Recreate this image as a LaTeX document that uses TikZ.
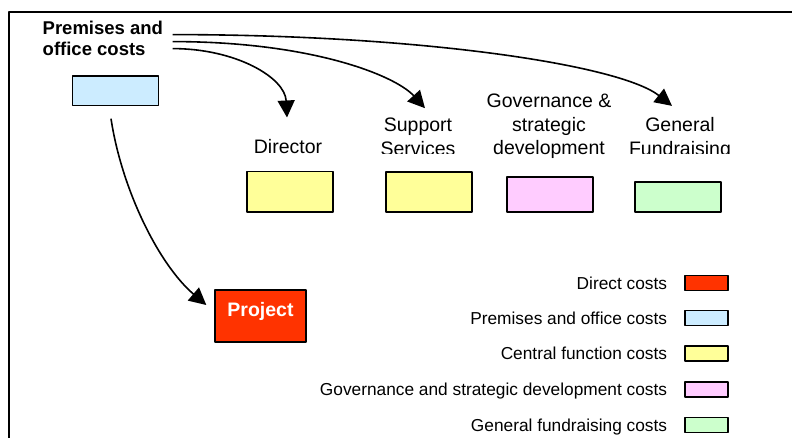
\documentclass[tikz,border=0pt]{standalone}
\usepackage{fontspec}
\setmainfont{Liberation Sans}
\usetikzlibrary{arrows.meta,positioning,calc}
\definecolor{premblue}{HTML}{CCECFF}
\definecolor{centyellow}{HTML}{FFFF99}
\definecolor{govpink}{HTML}{FFCCFF}
\definecolor{fundgreen}{HTML}{CCFFCC}
\definecolor{projred}{HTML}{FF3300}
\begin{document}
\begin{tikzpicture}[x=1pt,y=-1pt,>={Triangle[length=17pt,width=17pt]},line join=round,
	box/.style={draw,line width=1.4pt,inner sep=0,minimum width=86pt},
	key/.style={draw,line width=1.4pt,inner sep=0,minimum width=43pt,minimum height=15pt},
	lbl/.style={inner sep=0,align=center,anchor=south,text depth=0pt,font=\fontsize{19.5}{23.5}\selectfont},
	keytxt/.style={inner sep=0,text height=12.2pt,text depth=0pt,font=\fontsize{17.3}{20}\selectfont},
	link/.style={->,line width=1.6pt}]
	 \useasboundingbox (0,0) rectangle (792,438);
	 \draw[line width=1.4pt] (9,438)--(9,12)--(792,12);
	 % source
	 \node[inner sep=0,align=left,anchor=south west,text depth=0pt,font=\bfseries\fontsize{18.5}{21.5}\selectfont] (prem) at (42.5,56) {Premises and\\office costs};
	 \node[box,fill=premblue,minimum height=29.5pt] (prembox) at (115.5,90.75) {};
	 % central functions
	 \begin{scope}
	 \clip (0,0) rectangle (792,153.5);
	 \node[lbl] (dirlbl) at (288,153.5) {Director};
	 \node[lbl] (suplbl) at (418,155.5) {Support\\Services};
	 \node[lbl] (genlbl) at (680,155.5) {General\\Fundraising};
	 \end{scope}
	 \node[lbl] (govlbl) at (549,155) {Governance \&\\strategic\\development};
	 \node[box,fill=centyellow,minimum height=40.5pt] (dirbox) at (290,191.75) {};
	 \node[box,fill=centyellow,minimum height=40pt] (supbox) at (429,192) {};
	 \node[box,fill=govpink,minimum height=35pt] (govbox) at (550,194.5) {};
	 \node[box,fill=fundgreen,minimum height=30pt] (genbox) at (678,197) {};
	 \node[box,fill=projred,minimum width=91pt,minimum height=52pt,text=white,text height=14pt,text depth=14pt,font=\bfseries\fontsize{19.5}{23}\selectfont] (proj) at (260.5,316) {Project};
	 % arrows
	 \coordinate (sgen) at ($(prem.east)+(9.5,-3.75)$);
	 \coordinate (ssup) at ($(prem.east)+(9.5,3.25)$);
	 \coordinate (sdir) at ($(prem.east)+(9.5,10.25)$);
	 \coordinate (sproj) at ($(prembox.south)+(-4.5,12.5)$);
	 \coordinate (tdir) at ($(dirlbl.north)+(-1,-21.5)$);
	 \coordinate (tsup) at ($(suplbl.north)+(7,-9.8)$);
	 \coordinate (tgen) at ($(genlbl.north)+(-8,-11.6)$);
	 \coordinate (tproj) at ($(proj.west)+(-8,-11)$);
	 \draw[link] (sgen) .. controls +(248,0) and +(-52,-41) .. (tgen);
	 \draw[link] (ssup) .. controls +(138,0) and +(-30,-33) .. (tsup);
	 \draw[link] (sdir) .. controls +(63,0) and +(-2,-40) .. (tdir);
	 \draw[link] (sproj) .. controls +(11,72) and +(-47,-40) .. (tproj);
	 % legend
	 \node[key,fill=projred] (kdir) at (706.5,283) {};
	 \node[key,fill=premblue] (kprem) at (706.5,318) {};
	 \node[key,fill=centyellow] (kcent) at (706.5,353.5) {};
	 \node[key,fill=govpink] (kgov) at (706.5,389.5) {};
	 \node[key,fill=fundgreen] (kfund) at (706.5,425) {};
	 \node[keytxt,left=17pt of kdir] (ldir) {Direct costs};
	 \node[keytxt,left=17pt of kprem] (lprem) {Premises and office costs};
	 \node[keytxt,left=17pt of kcent] (lcent) {Central function costs};
	 \node[keytxt,left=17pt of kgov] (lgov) {Governance and strategic development costs};
	 \node[keytxt,left=17pt of kfund] (lfund) {General fundraising costs};
\end{tikzpicture}
\end{document}
